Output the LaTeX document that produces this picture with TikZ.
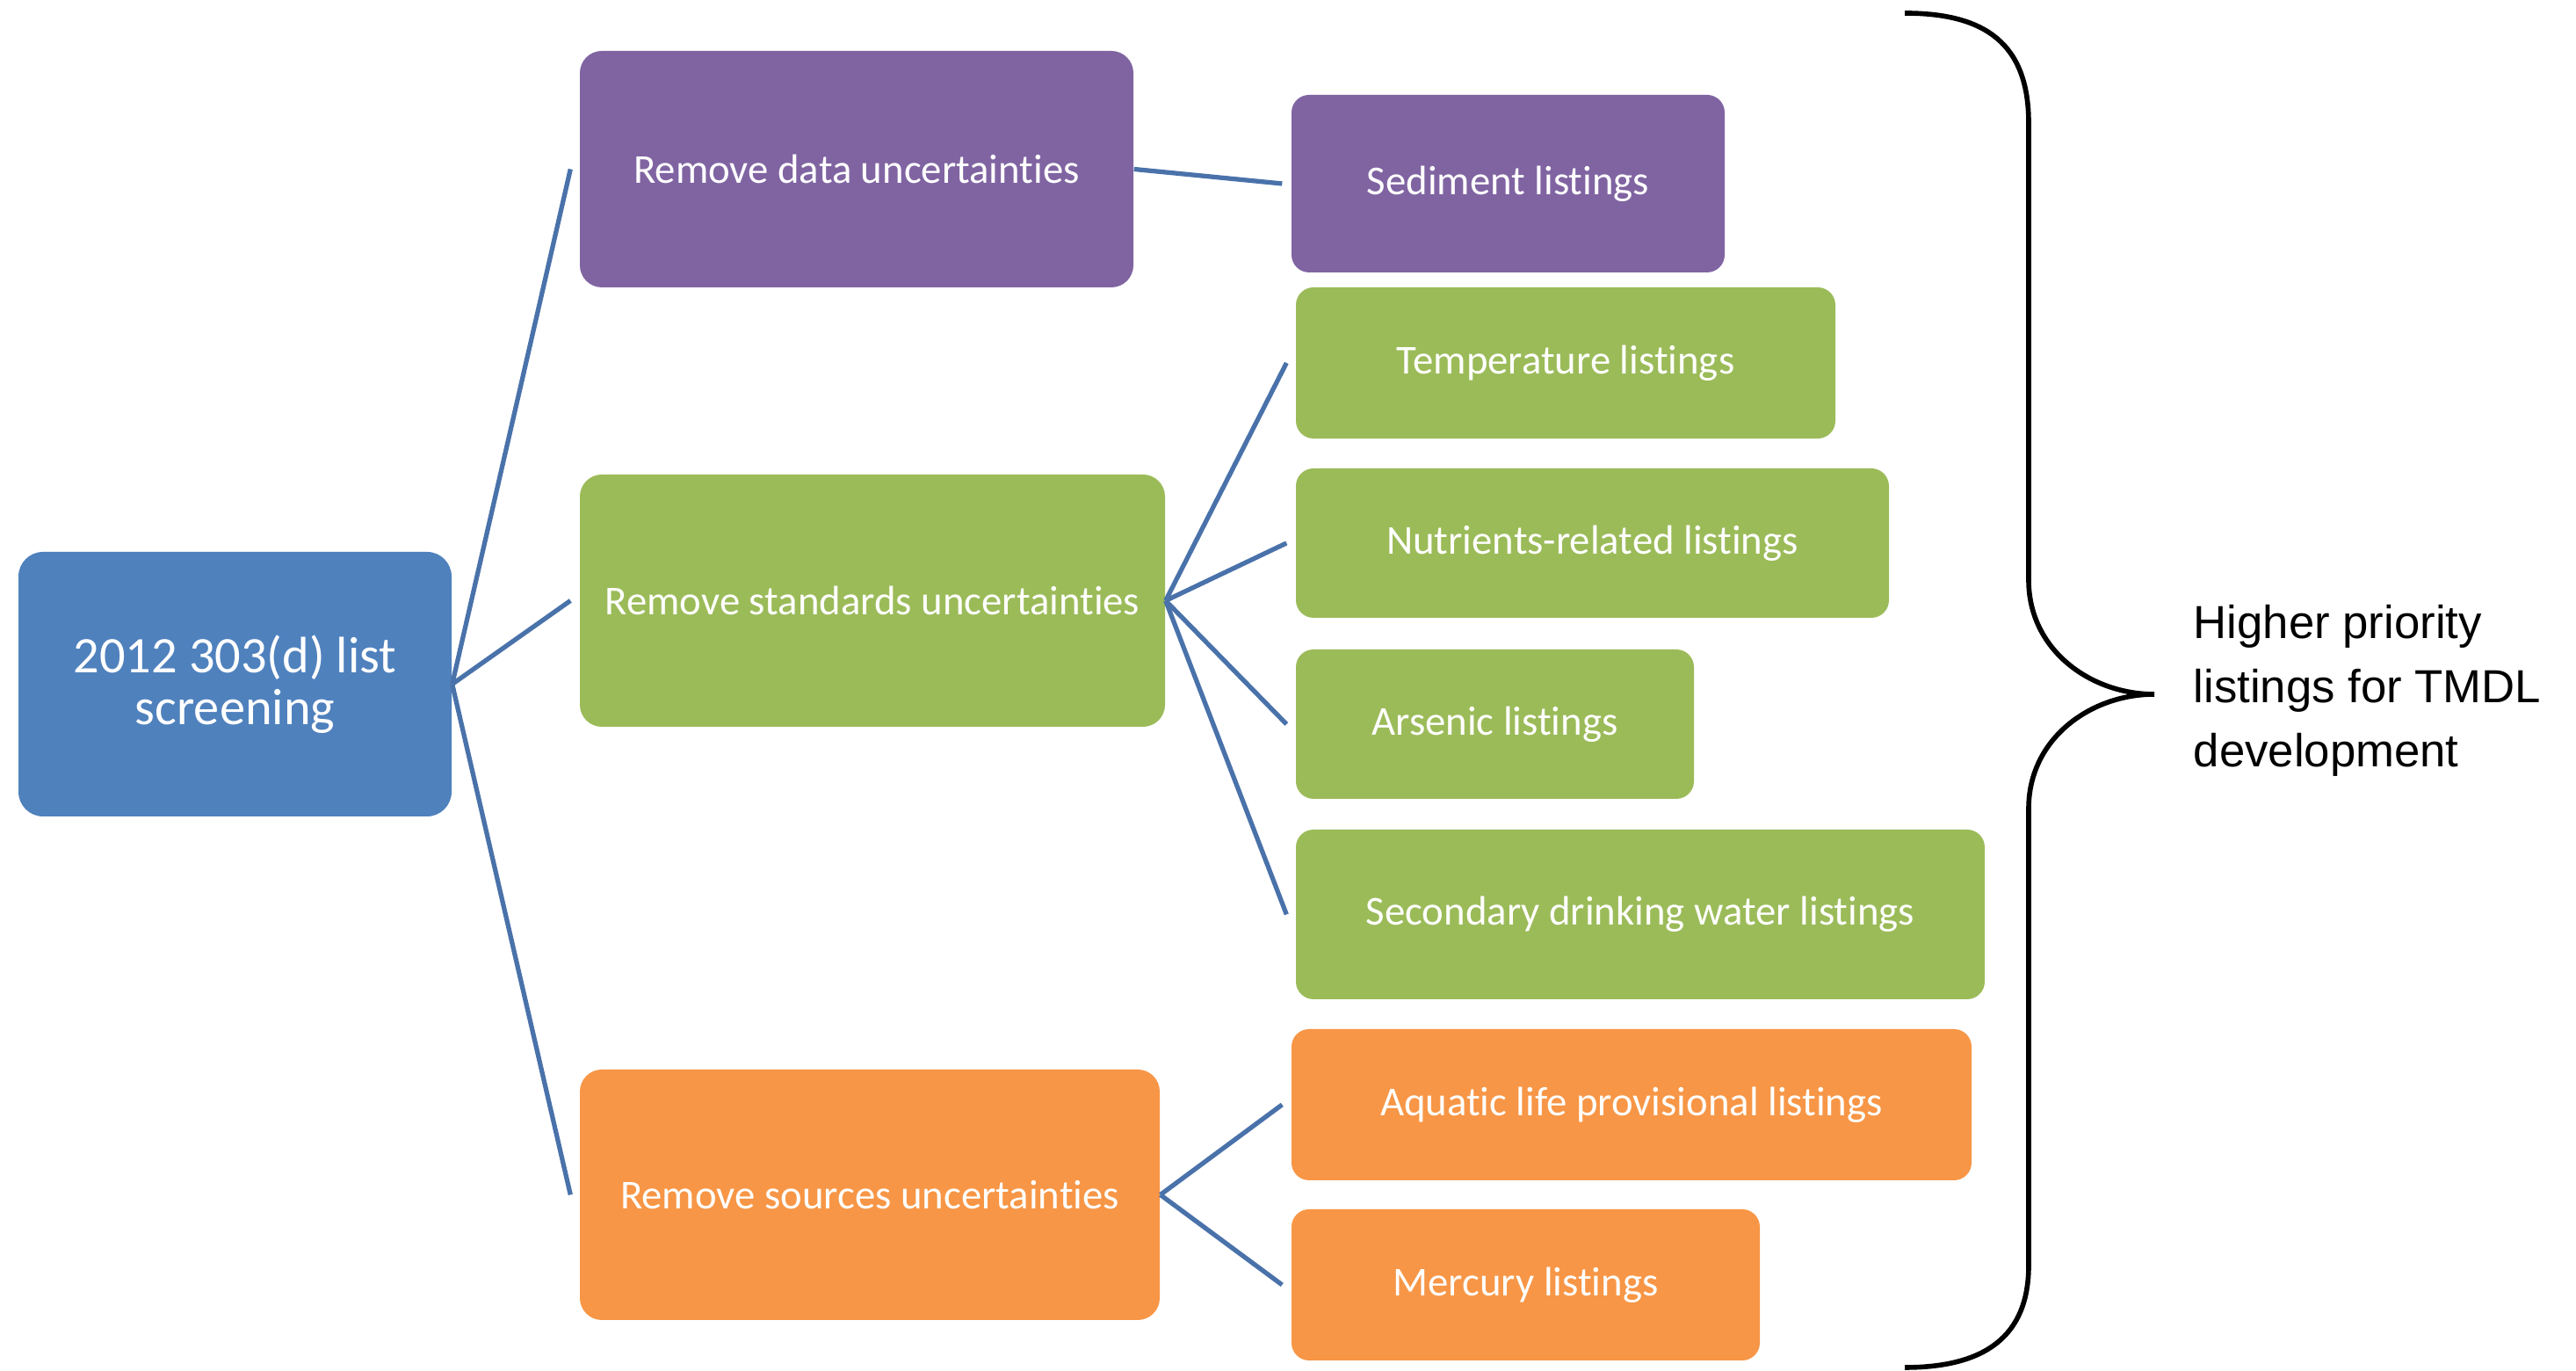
\documentclass[tikz,border=0pt]{standalone}
\usepackage{fontspec}
\setmainfont{Carlito}[Ligatures={NoCommon}]
\newfontfamily\notefont{Liberation Sans}
\usetikzlibrary{positioning}
\definecolor{rootblue}{HTML}{4F81BD}
\definecolor{datapurple}{HTML}{8064A2}
\definecolor{stdgreen}{HTML}{9BBB59}
\definecolor{srcorange}{HTML}{F79646}
\definecolor{linkblue}{HTML}{4A72AA}

\begin{document}
\begin{tikzpicture}[
  box/.style={rounded corners=0.2cm, text=white, inner sep=0pt, align=center,
    font=\fontsize{13.3}{16}\selectfont},
  link/.style={draw=linkblue, line width=1.5pt},
]
  \useasboundingbox (0,0) rectangle (29.32,15.6);
  % root
  \node[box, fill=rootblue, minimum width=4.93cm, minimum height=3.01cm, rounded corners=0.28cm,
    font=\fontsize{16.6}{16.8}\selectfont] (screen) at (2.675,7.815) {2012 303(d) list\\screening};
  % first level
  \node[box, fill=datapurple, minimum width=6.30cm, minimum height=2.69cm, rounded corners=0.25cm] (data) at (9.75,13.675) {Remove data uncertainties};
  \node[box, fill=stdgreen, minimum width=6.66cm, minimum height=2.87cm, rounded corners=0.25cm] (stds) at (9.93,8.765) {Remove standards uncertainties};
  \node[box, fill=srcorange, minimum width=6.60cm, minimum height=2.85cm, rounded corners=0.25cm] (srcs) at (9.90,2.005) {Remove sources uncertainties};
  % listings
  \node[box, fill=datapurple, minimum width=4.93cm, minimum height=2.02cm] (sediment) at (17.165,13.51) {Sediment listings};
  \node[box, fill=stdgreen, minimum width=6.14cm, minimum height=1.72cm] (temp) at (17.82,11.47) {Temperature listings};
  \node[box, fill=stdgreen, minimum width=6.75cm, minimum height=1.70cm] (nutr) at (18.125,9.42) {Nutrients-related listings};
  \node[box, fill=stdgreen, minimum width=4.53cm, minimum height=1.70cm] (arsenic) at (17.015,7.36) {Arsenic listings};
  \node[box, fill=stdgreen, minimum width=7.84cm, minimum height=1.93cm] (secondary) at (18.67,5.195) {Secondary drinking water listings};
  \node[box, fill=srcorange, minimum width=7.74cm, minimum height=1.72cm] (aquatic) at (18.57,3.03) {Aquatic life provisional listings};
  \node[box, fill=srcorange, minimum width=5.33cm, minimum height=1.72cm] (mercury) at (17.365,0.98) {Mercury listings};
  % connectors
  \foreach \child in {data,stds,srcs}
    \draw[link] (screen.east) -- ([xshift=-0.1cm]\child.west);
  \draw[link] (data.east) -- ([xshift=-0.1cm]sediment.west);
  \foreach \child in {temp,nutr,arsenic,secondary}
    \draw[link] (stds.east) -- ([xshift=-0.1cm]\child.west);
  \foreach \child in {aquatic,mercury}
    \draw[link] (srcs.east) -- ([xshift=-0.1cm]\child.west);
  % brace
  \coordinate (tip) at (24.52,7.70);
  \draw[line width=1.6pt] (21.68,15.45) .. controls (22.6,15.45) and (23.09,15.1) .. (23.09,14.2)
    -- (23.09,9.0) .. controls (23.09,8.2) and (23.8,7.70) .. (tip)
    .. controls (23.8,7.70) and (23.09,7.2) .. (23.09,6.4)
    -- (23.09,1.2) .. controls (23.09,0.4) and (22.6,0.04) .. (21.68,0.04);
  \node[anchor=west, align=left, inner sep=0pt, font=\notefont\fontsize{15}{20.8}\selectfont] (note) at (24.96,7.74)
    {Higher priority\\listings for TMDL\\development};
\end{tikzpicture}
\end{document}
